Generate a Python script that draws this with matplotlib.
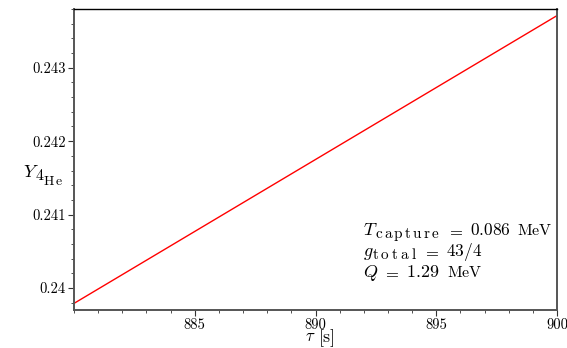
import matplotlib
matplotlib.use("Agg")
import matplotlib.pyplot as plt
from matplotlib.ticker import FixedLocator, MultipleLocator

# Data
tau = [880.0, 890.0, 900.0]
y_he = [0.23979, 0.24175, 0.24371]

x_major = [885, 890, 895, 900]
y_major = [0.240, 0.241, 0.242, 0.243]
y_labels = ["0.24", "0.241", "0.242", "0.243"]

W, H = 567, 348

plt.rcParams['font.family'] = 'serif'
plt.rcParams['font.serif'] = ['cmr10', 'DejaVu Serif']
plt.rcParams['mathtext.fontset'] = 'cm'
plt.rcParams['axes.unicode_minus'] = False

fig = plt.figure(figsize=(W / 100, H / 100), dpi=100)
ax = fig.add_axes([74 / W, 1 - 310 / H, (557 - 74) / W, (310 - 9) / H])
renderer = fig.canvas.get_renderer()


def flow(x, y, pieces):
    # lay text pieces left to right from pixel (x, baseline y), top-left origin
    # each piece: (text, fontsize, baseline shift down, gap after)
    for s, size, dy, gap in pieces:
        t = fig.text(x / W, 1 - (y + dy) / H, s, fontsize=size,
                     ha='left', va='baseline')
        bb = t.get_window_extent(renderer)
        x = bb.x1 + gap


ax.plot(tau, y_he, color='red', lw=1.0)

ax.set_xlim(880, 900)
ax.set_ylim(0.2397, 0.2438)

ax.xaxis.set_major_locator(FixedLocator(x_major))
ax.xaxis.set_minor_locator(MultipleLocator(1))
ax.set_xticklabels([str(v) for v in x_major])
ax.yaxis.set_major_locator(FixedLocator(y_major))
ax.yaxis.set_minor_locator(MultipleLocator(0.0002))
ax.set_yticklabels(y_labels)

ax.tick_params(which='major', direction='out', length=4, width=0.8, labelsize=10.5, colors='#333333', pad=2)
ax.tick_params(which='minor', direction='out', length=2, width=0.6, colors='#333333')
ax.tick_params(axis='both', labelcolor='black')

for s in ['left', 'bottom', 'right']:
    ax.spines[s].set_color('#555555')
    ax.spines[s].set_linewidth(1.4)
ax.spines['top'].set_color('black')
ax.spines['top'].set_linewidth(1.0)

# axis labels
flow(305, 341, [(r'$\tau$', 12, 0, 3), ('[s]', 13, 1, 0)])
flow(23, 177, [(r'$Y$', 13, 0, -3), ('4', 11.5, 3, -1),
               (r'$\mathrm{H\,e}$', 10, 8, 0)])

# parameter annotations
flow(363, 235, [(r'$T$', 13, 0, -3),
                (r'$\mathrm{c\,a\,p\,t\,u\,r\,e}$', 11, 3, 7),
                (r'$=$', 12, 0, 6),
                (r'$0.086$', 12.5, 0, 7),
                (r'$\mathrm{MeV}$', 11.5, 0, 0)])
flow(363, 256, [(r'$g$', 13, 0, -2),
                (r'$\mathrm{t\:o\:t\:a\:l}$', 11, 3, 6),
                (r'$=$', 12, 0, 6),
                (r'$43/4$', 12.5, 0, 0)])
flow(363, 277, [(r'$Q$', 13, 0, 5),
                (r'$=$', 12, 0, 6),
                (r'$1.29$', 13, 0, 8),
                (r'$\mathrm{MeV}$', 11.5, 0, 0)])

fig.savefig('out.png', dpi=100)
